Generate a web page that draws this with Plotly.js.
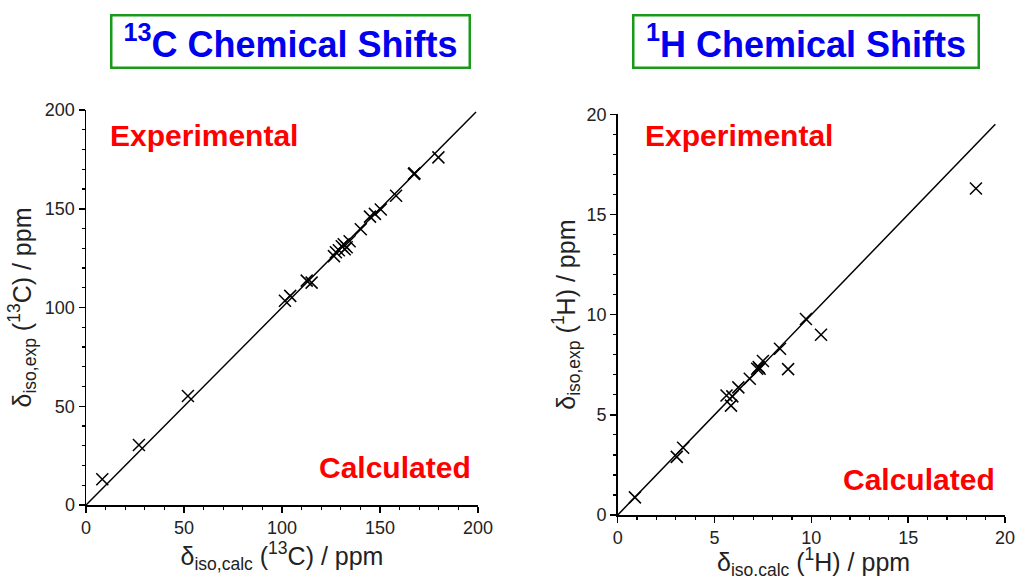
<!DOCTYPE html>
<html>
<head>
<meta charset="utf-8">
<script src="https://cdn.plot.ly/plotly-3.0.1.min.js"></script>
<style>
  html, body { margin: 0; padding: 0; background: #fff; }
  #chart { width: 1015px; height: 576px; }
</style>
</head>
<body>
<div id="chart"></div>
<script>
// 13C shifts: calculated vs experimental (ppm)
const carbonCalc = [8.3, 27.0, 52.0, 101.5, 104.2, 112.6, 115.1,
  126.5, 127.5, 129.0, 130.5, 131.5, 133.0, 134.5, 132.0,
  140.2, 144.9, 147.4, 150.4, 158.2, 167.3, 167.6, 179.8];
const carbonExp = [13.0, 30.4, 55.2, 103.4, 105.9, 113.6, 112.6,
  126.0, 128.0, 129.0, 131.0, 132.0, 130.5, 133.5, 129.5,
  139.6, 146.0, 147.4, 149.6, 156.6, 167.6, 168.0, 176.0];
const carbonFit = [0, 199];

// 1H shifts: calculated vs experimental (ppm)
const protonCalc = [0.89, 3.05, 3.38, 5.62, 5.85, 5.92, 6.23, 6.82,
  7.2, 7.28, 7.33, 7.5, 8.38, 8.8, 9.72, 10.5, 18.5];
const protonExp = [0.88, 2.9, 3.36, 5.96, 5.46, 5.92, 6.37, 6.8,
  7.3, 7.38, 7.3, 7.69, 8.3, 7.28, 9.78, 9.0, 16.3];
const protonFit = [0, 19.5];

// axis tick settings
const carbonTicks = [0, 50, 100, 150, 200];
const protonTicks = [0, 5, 10, 15, 20];

const FONT = 'Liberation Sans, Arial, sans-serif';
const W = 1015, H = 576;
const px = v => v / W;
const py = v => 1 - v / H;

const markerStyle = {
  symbol: 'x-thin', size: 12, color: '#000',
  line: { color: '#000', width: 1.5 }
};

const traces = [
  { x: carbonFit, y: carbonFit, type: 'scatter', mode: 'lines',
    line: { color: '#000', width: 1.5 }, xaxis: 'x', yaxis: 'y', hoverinfo: 'skip' },
  { x: carbonCalc, y: carbonExp, type: 'scatter', mode: 'markers',
    marker: markerStyle, xaxis: 'x', yaxis: 'y', cliponaxis: false },
  { x: protonFit, y: protonFit, type: 'scatter', mode: 'lines',
    line: { color: '#000', width: 1.5 }, xaxis: 'x2', yaxis: 'y2', hoverinfo: 'skip' },
  { x: protonCalc, y: protonExp, type: 'scatter', mode: 'markers',
    marker: markerStyle, xaxis: 'x2', yaxis: 'y2', cliponaxis: false }
];

const titleTextFont = { family: FONT, size: 25, color: '#222' };

function axis(domain, ticks, minor, title, standoff, anchor) {
  const ax = {
    domain: domain,
    anchor: anchor,
    range: [ticks[0], ticks[ticks.length - 1]],
    tickvals: ticks,
    showgrid: false, zeroline: false,
    showline: true, linecolor: '#000', linewidth: 1.5,
    ticks: 'outside', ticklen: 6, tickwidth: 1.5, tickcolor: '#000',
    minor: { ticks: 'outside', ticklen: 3, tickwidth: 1.2, tickcolor: '#000', dtick: minor, showgrid: false },
    ticklabeloverflow: 'allow',
    tickfont: { family: FONT, size: 18, color: '#222' },
    fixedrange: true
  };
  if (title) ax.title = { text: title, font: titleTextFont, standoff: standoff };
  return ax;
}

const annFont = { family: FONT, size: 30, color: '#ff0000' };
const titleFont = { family: FONT, size: 36, color: '#0000ee' };

const layout = {
  width: W, height: H,
  margin: { l: 0, r: 0, t: 0, b: 0 },
  paper_bgcolor: '#fff', plot_bgcolor: '#fff',
  showlegend: false,
  xaxis: axis([px(86), px(478)], carbonTicks, 10,
    'δ<sub>iso,calc</sub> (<sup>13</sup>C) / ppm', 1, 'y'),
  yaxis: axis([py(505), py(110)], carbonTicks, 10,
    'δ<sub>iso,exp</sub> (<sup>13</sup>C) / ppm', 6, 'x'),
  xaxis2: axis([px(617.7), px(1005)], protonTicks, 1, null, 0, 'y2'),
  yaxis2: axis([py(515), py(114.3)], protonTicks, 1,
    'δ<sub>iso,exp</sub> (<sup>1</sup>H) / ppm', 4, 'x2'),
  annotations: [
    { xref: 'paper', yref: 'paper', x: px(290.5), y: py(41), xanchor: 'center', yanchor: 'middle',
      text: '<b><sup>13</sup>C Chemical Shifts</b>', showarrow: false, font: titleFont,
      bordercolor: '#1a9a1a', borderwidth: 2.5, borderpad: 0, bgcolor: '#fff', width: 356, height: 50 },
    { xref: 'paper', yref: 'paper', x: px(805.5), y: py(41), xanchor: 'center', yanchor: 'middle',
      text: '<b><sup>1</sup>H Chemical Shifts</b>', showarrow: false, font: titleFont,
      bordercolor: '#1a9a1a', borderwidth: 2.5, borderpad: 0, bgcolor: '#fff', width: 343, height: 50 },
    { xref: 'paper', yref: 'paper', x: px(108), y: py(135), xanchor: 'left', yanchor: 'middle',
      text: '<b>Experimental</b>', showarrow: false, font: annFont },
    { xref: 'paper', yref: 'paper', x: px(473), y: py(467), xanchor: 'right', yanchor: 'middle',
      text: '<b>Calculated</b>', showarrow: false, font: annFont },
    { xref: 'paper', yref: 'paper', x: px(643), y: py(135), xanchor: 'left', yanchor: 'middle',
      text: '<b>Experimental</b>', showarrow: false, font: annFont },
    { xref: 'paper', yref: 'paper', x: px(997), y: py(479), xanchor: 'right', yanchor: 'middle',
      text: '<b>Calculated</b>', showarrow: false, font: annFont },
    // x-axis title of the 1H panel, set low so it runs off the bottom edge
    { xref: 'paper', yref: 'paper', x: px(813), y: py(562), xanchor: 'center', yanchor: 'middle',
      text: 'δ<sub>iso,calc</sub> (<sup>1</sup>H) / ppm', showarrow: false, font: titleTextFont }
  ]
};

Plotly.newPlot('chart', traces, layout, { staticPlot: true, displayModeBar: false });
</script>
</body>
</html>
